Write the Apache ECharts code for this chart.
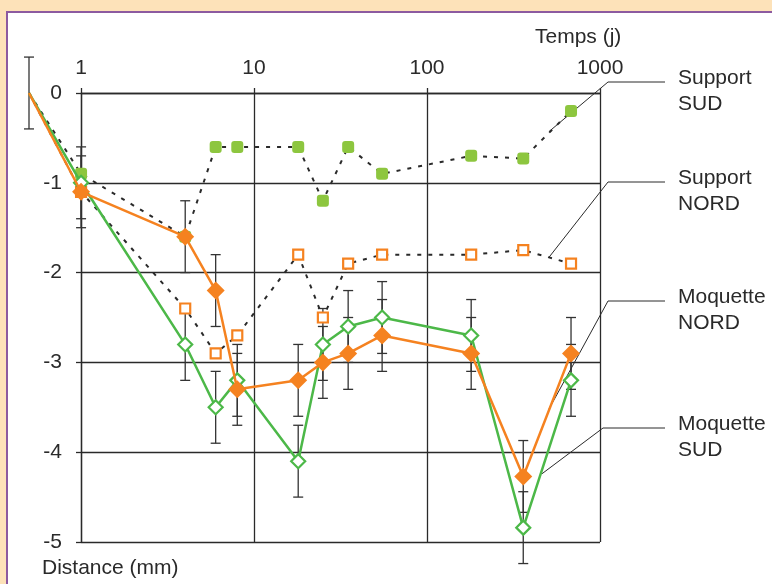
<!DOCTYPE html>
<html>
<head>
<meta charset="utf-8">
<script src="https://cdn.jsdelivr.net/npm/echarts@6/dist/echarts.min.js"></script>
<style>
  html, body { margin: 0; padding: 0; background: #fde2b9; }
  #chart { width: 772px; height: 584px; }
</style>
</head>
<body>
<div id="chart"></div>
<script>
// temps (j), one column per measurement
const days = [0.5, 1, 4, 6, 8, 18, 25, 35, 55, 180, 360, 680];
const supportSud = [0, -0.9, -1.6, -0.6, -0.6, -0.6, -1.2, -0.6, -0.9, -0.7, -0.73, -0.2];
const supportNord = [0, -1.1, -2.4, -2.9, -2.7, -1.8, -2.5, -1.9, -1.8, -1.8, -1.75, -1.9];
const moquetteNord = [0, -1.1, -1.6, -2.2, -3.3, -3.2, -3.0, -2.9, -2.7, -2.9, -4.27, -2.9];
const moquetteSud = [0, -1.0, -2.8, -3.5, -3.2, -4.1, -2.8, -2.6, -2.5, -2.7, -4.84, -3.2];
const errNord = [0.4, 0.4, 0.4, 0.4, 0.4, 0.4, 0.4, 0.4, 0.4, 0.4, 0.4, 0.4];
const errSud = [0, 0.4, 0.4, 0.4, 0.4, 0.4, 0.4, 0.4, 0.4, 0.4, 0.4, 0.4];
const xTicks = [1, 10, 100, 1000];

// label text, point on the curve it refers to
const callouts = [
  { text: "Support\nSUD", at: [507, -0.43], elbowY: 82, elbowX: 608 },
  { text: "Support\nNORD", at: [507, -1.83], elbowY: 182, elbowX: 608 },
  { text: "Moquette\nNORD", at: [507, -3.52], elbowY: 301, elbowX: 608 },
  { text: "Moquette\nSUD", at: [462, -4.24], elbowY: 428, elbowX: 603 },
];

const FONT = "'Liberation Sans', Arial, sans-serif";
const FS = 21;
const ORANGE = "#f58220";
const GREEN = "#4cb848";
const LIME = "#8dc63f";
const INK = "#2a2a2a";

const chart = echarts.init(document.getElementById("chart"));

const toPoints = (ys) =>
  ys.map((y, i) => (i === 0 ? { value: [days[i], y], symbol: "none" } : [days[i], y]));

const errData = [];
days.forEach((d, i) => {
  errData.push([d, moquetteNord[i], errNord[i]]);
  if (errSud[i] > 0) errData.push([d, moquetteSud[i], errSud[i]]);
});

const dashed = { color: INK, width: 2, type: [4, 7] };
const axisLine = { color: INK, width: 1.3 };

// grid 0 draws the frame (1..1000 j), grid 1 carries the data from t = 0.5
const common = { xAxisIndex: 1, yAxisIndex: 1, clip: false };

chart.setOption({
  backgroundColor: "#fde2b9",
  animation: false,
  textStyle: { fontFamily: FONT },
  grid: [
    { left: 81, right: 172, top: 93, bottom: 42 },
    { left: 29, right: 172, top: 93, bottom: 42 },
  ],
  xAxis: [
    {
      type: "log",
      logBase: 10,
      min: 1,
      max: 1000,
      gridIndex: 0,
      position: "top",
      axisLine: { show: true, lineStyle: axisLine },
      axisTick: { show: true, length: 5, lineStyle: axisLine },
      axisLabel: {
        margin: 14,
        fontSize: FS,
        color: INK,
        fontFamily: FONT,
        formatter: (v) => (xTicks.includes(Math.round(v)) ? String(Math.round(v)) : ""),
      },
      splitLine: { show: true, lineStyle: axisLine },
    },
    {
      type: "log",
      logBase: 10,
      min: 0.5,
      max: 1000,
      gridIndex: 1,
      show: false,
    },
  ],
  yAxis: [
    {
      type: "value",
      min: -5,
      max: 0,
      interval: 1,
      gridIndex: 0,
      axisLine: { show: true, lineStyle: axisLine },
      axisTick: { show: true, length: 5, lineStyle: axisLine },
      axisLabel: { margin: 19, fontSize: FS, color: INK, fontFamily: FONT },
      splitLine: { show: true, lineStyle: axisLine },
    },
    { type: "value", min: -5, max: 0, gridIndex: 1, show: false },
  ],
  series: [
    {
      type: "custom",
      ...common,
      z: 1,
      data: errData,
      renderItem: (params, api) => {
        const x = api.value(0), y = api.value(1), e = api.value(2);
        const top = api.coord([x, y + e]);
        const bot = api.coord([x, y - e]);
        const w = 5;
        const style = { stroke: "#333", lineWidth: 1.3 };
        return {
          type: "group",
          children: [
            { type: "line", shape: { x1: top[0], y1: top[1], x2: bot[0], y2: bot[1] }, style },
            { type: "line", shape: { x1: top[0] - w, y1: top[1], x2: top[0] + w, y2: top[1] }, style },
            { type: "line", shape: { x1: bot[0] - w, y1: bot[1], x2: bot[0] + w, y2: bot[1] }, style },
          ],
        };
      },
    },
    {
      name: "Support SUD",
      type: "line",
      ...common,
      z: 3,
      data: toPoints(supportSud),
      symbol: "roundRect",
      symbolSize: 12,
      lineStyle: dashed,
      itemStyle: { color: LIME },
    },
    {
      name: "Support NORD",
      type: "line",
      ...common,
      z: 3,
      data: toPoints(supportNord),
      symbol: "rect",
      symbolSize: 10,
      lineStyle: dashed,
      itemStyle: { color: "#fff", borderColor: ORANGE, borderWidth: 2.2 },
    },
    {
      name: "Moquette SUD",
      type: "line",
      ...common,
      z: 4,
      data: toPoints(moquetteSud),
      symbol: "diamond",
      symbolSize: 14,
      lineStyle: { color: GREEN, width: 2.5 },
      itemStyle: { color: "#fff", borderColor: GREEN, borderWidth: 2.2 },
    },
    {
      name: "Moquette NORD",
      type: "line",
      ...common,
      z: 5,
      data: toPoints(moquetteNord),
      symbol: "diamond",
      symbolSize: 18,
      lineStyle: { color: ORANGE, width: 2.5 },
      itemStyle: { color: ORANGE },
    },
  ],
});

// panel, titles and callout labels
const graphics = [
  {
    type: "rect",
    z: -10,
    silent: true,
    shape: { x: 7, y: 12, width: 780, height: 590 },
    style: { fill: "#fff", stroke: "#8c5aa0", lineWidth: 2 },
  },
  {
    type: "text",
    x: 535, y: 37,
    style: { text: "Temps (j)", font: FS + "px " + FONT, fill: INK, verticalAlign: "middle" },
  },
  {
    type: "text",
    x: 42, y: 568,
    style: { text: "Distance (mm)", font: FS + "px " + FONT, fill: INK, verticalAlign: "middle" },
  },
];

callouts.forEach((c) => {
  const p = chart.convertToPixel({ gridIndex: 0 }, c.at);
  graphics.push({
    type: "polyline",
    shape: { points: [p, [c.elbowX, c.elbowY], [665, c.elbowY]] },
    style: { stroke: INK, lineWidth: 1, fill: null },
  });
  graphics.push({
    type: "text",
    x: 678, y: c.elbowY + 9,
    style: {
      text: c.text, font: FS + "px " + FONT, fill: INK,
      verticalAlign: "middle", lineHeight: 26,
    },
  });
});

chart.setOption({ graphic: graphics });
</script>
</body>
</html>
